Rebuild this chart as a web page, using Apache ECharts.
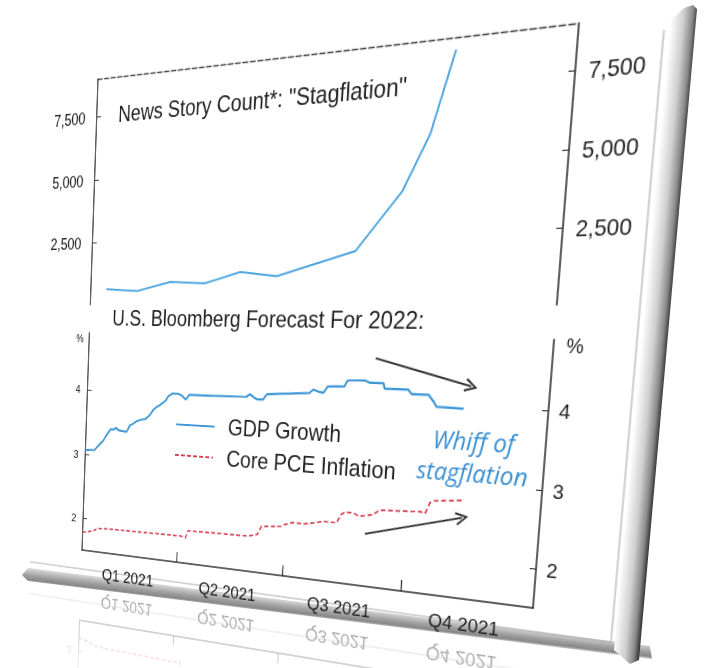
<!DOCTYPE html>
<html>
<head>
<meta charset="utf-8">
<script src="https://cdn.jsdelivr.net/npm/echarts@6/dist/echarts.min.js"></script>
<style>
  html, body { margin: 0; padding: 0; background: #fff; overflow: hidden; width: 705px; height: 668px; }
  #frame { position: absolute; left: 0; top: 0; }
  #board {
    position: absolute; left: 0; top: 0; transform-origin: 0 0;
    -webkit-box-reflect: below 0px linear-gradient(to bottom, transparent 80%, rgba(0,0,0,0.42) 100%);
  }
</style>
</head>
<body>
<svg id="frame" width="705" height="668" xmlns="http://www.w3.org/2000/svg">
  <defs>
    <linearGradient id="edgeRight" gradientUnits="userSpaceOnUse" x1="643" y1="335" x2="668" y2="337.3">
      <stop offset="0" stop-color="#fafafa"/>
      <stop offset="0.45" stop-color="#cfcfcf"/>
      <stop offset="0.8" stop-color="#8a8a8a"/>
      <stop offset="1" stop-color="#3a3a3a"/>
    </linearGradient>
    <linearGradient id="edgeBottom" gradientUnits="userSpaceOnUse" x1="300" y1="602" x2="298.4" y2="615">
      <stop offset="0" stop-color="#d6d6d6"/>
      <stop offset="0.5" stop-color="#a2a2a2"/>
      <stop offset="0.85" stop-color="#888888"/>
      <stop offset="1" stop-color="#bdbdbd"/>
    </linearGradient>
  </defs>
  <polygon points="22,575 28,568 650,646 652,659 28,581" fill="url(#edgeBottom)"/>
  <polygon points="671,20 684,8 693,5 697,9 639,660 630,664 614,650" fill="url(#edgeRight)"/>
</svg>
<div id="board"></div>
<script>
// ---- data ----
const storyDates  = ['2021-01-16', '2021-02-14', '2021-03-16', '2021-04-15', '2021-05-15',
                     '2021-06-14', '2021-08-13', '2021-09-14', '2021-10-01', '2021-10-15'];
const storyCounts = [624, 548, 897, 821, 1239, 1060, 1914, 3969, 5851, 8596];

const gdpDates = ['2021-01-01','2021-01-10','2021-01-13','2021-01-18','2021-01-21','2021-01-25','2021-01-27',
  '2021-01-30','2021-02-01','2021-02-04','2021-02-09','2021-02-12','2021-02-15','2021-02-18','2021-02-23',
  '2021-02-26','2021-03-02','2021-03-05','2021-03-08','2021-03-11','2021-03-16','2021-03-18','2021-03-22',
  '2021-03-27','2021-03-30','2021-04-03','2021-04-06','2021-04-15','2021-05-25','2021-05-28','2021-05-31',
  '2021-06-03','2021-06-08','2021-06-11','2021-07-15','2021-07-18','2021-07-23','2021-07-26','2021-07-29',
  '2021-08-11','2021-08-13','2021-08-26','2021-08-30','2021-09-09','2021-09-10','2021-09-27','2021-09-30',
  '2021-10-12','2021-10-16','2021-10-18','2021-11-06'];
const gdpValues = [3.07, 3.08, 3.14, 3.23, 3.32, 3.42, 3.41,
  3.44, 3.41, 3.40, 3.39, 3.49, 3.52, 3.56, 3.59,
  3.60, 3.66, 3.74, 3.79, 3.82, 3.89, 3.95, 4.00,
  4.00, 3.98, 3.92, 3.99, 3.99, 4.00, 4.04, 4.00,
  3.97, 3.97, 4.05, 4.09, 4.14, 4.11, 4.10, 4.19,
  4.20, 4.28, 4.29, 4.26, 4.26, 4.19, 4.19, 4.13,
  4.13, 4.04, 3.98, 3.97];

const pceDates = ['2021-01-01','2021-01-11','2021-01-16','2021-01-31','2021-03-04','2021-04-03','2021-04-08',
  '2021-04-10','2021-05-03','2021-06-01','2021-06-09','2021-06-12','2021-06-28','2021-07-01','2021-07-07',
  '2021-07-17','2021-07-25','2021-07-31','2021-08-11','2021-08-14','2021-08-17','2021-08-23','2021-08-28',
  '2021-09-07','2021-09-12','2021-10-02','2021-10-12','2021-10-15','2021-10-18','2021-10-21','2021-11-11'];
const pceValues = [1.78, 1.82, 1.87, 1.88, 1.89, 1.90, 1.88,
  1.99, 2.00, 2.01, 2.05, 2.17, 2.20, 2.23, 2.27,
  2.27, 2.30, 2.33, 2.33, 2.45, 2.49, 2.49, 2.45,
  2.49, 2.56, 2.58, 2.59, 2.57, 2.72, 2.75, 2.79];

const quarterStarts = ['2021-01-01', '2021-04-01', '2021-07-01', '2021-10-01', '2022-01-01'];
const quarterLabels = ['Q1 2021', 'Q2 2021', 'Q3 2021', 'Q4 2021'];
const storyTickValues = [2500, 5000, 7500];
const rateTickValues = [2, 3, 4];

// trend arrows: [date, value] start and end points
const arrowStarts = [['2021-09-02', 4.59], ['2021-09-02', 2.22]];
const arrowEnds   = [['2021-11-10', 4.26], ['2021-11-10', 2.56]];

// ---- helpers ----
const DAY0 = Date.parse('2021-01-01T00:00:00Z');
const dayOf = s => (Date.parse(s + 'T00:00:00Z') - DAY0) / 864e5;
const pairs = (dates, vals) => dates.map((d, i) => [dayOf(d), vals[i]]);

const quarterBounds = quarterStarts.slice(1, -1).map(dayOf);
const quarterMids = quarterLabels.map((_, i) => (dayOf(quarterStarts[i]) + dayOf(quarterStarts[i + 1])) / 2);
const quarterName = v => {
  let best = 0;
  quarterMids.forEach((m, i) => { if (Math.abs(m - v) < Math.abs(quarterMids[best] - v)) best = i; });
  return quarterLabels[best];
};

// ---- flat layout of the board ----
const PL = 90, PT = 30, PW = 540, PH = 522;
const FW = PL + 620, FH = 593;
const TOP_FRAC = 0.468;      // bottom of upper panel (fraction of PH)
const BOT_FRAC = 0.5274;     // top of lower panel
const FONT = '"Liberation Sans", Arial, sans-serif';
const INK = '#222';

const board = document.getElementById('board');
board.style.width = FW + 'px';
board.style.height = FH + 'px';

// projective mapping of the flat board onto the tilted slab
function solveHomography(src, dst) {
  const A = [], b = [];
  for (let i = 0; i < 4; i++) {
    const [x, y] = src[i], [X, Y] = dst[i];
    A.push([x, y, 1, 0, 0, 0, -x * X, -y * X]); b.push(X);
    A.push([0, 0, 0, x, y, 1, -x * Y, -y * Y]); b.push(Y);
  }
  const n = 8;
  for (let c = 0; c < n; c++) {
    let p = c;
    for (let r = c + 1; r < n; r++) if (Math.abs(A[r][c]) > Math.abs(A[p][c])) p = r;
    [A[c], A[p]] = [A[p], A[c]]; [b[c], b[p]] = [b[p], b[c]];
    for (let r = 0; r < n; r++) {
      if (r === c) continue;
      const f = A[r][c] / A[c][c];
      for (let k = c; k < n; k++) A[r][k] -= f * A[c][k];
      b[r] -= f * b[c];
    }
  }
  return b.map((v, i) => v / A[i][i]);
}
const h = solveHomography(
  [[PL, PT], [PL + PW, PT], [PL + PW, PT + PH], [PL, PT + PH]],
  [[98, 79], [579, 23], [533, 608], [82, 550]]
);
board.style.transform = `matrix3d(${h[0]},${h[3]},0,${h[6]},${h[1]},${h[4]},0,${h[7]},0,0,1,0,${h[2]},${h[5]},0,1)`;

// ---- chart ----
const chart = echarts.init(board, null, { renderer: 'svg', width: FW, height: FH });

const axisLineStyle = { color: '#2b2b2b', width: 1.5 };
const chevron = 'path://M5,0 L10,10 L8.6,10.7 L5,3 L1.4,10.7 L0,10 Z';

const option = {
  animation: false,
  backgroundColor: 'transparent',
  textStyle: { fontFamily: FONT, color: INK },
  title: [
    { text: 'News Story Count*: "Stagflation"', left: PL + 25, top: PT + 22,
      textStyle: { fontFamily: FONT, fontSize: 24, fontWeight: 'normal', color: INK, lineHeight: 26 } },
    { text: 'U.S. Bloomberg Forecast For 2022:', left: PL + 27, top: PT + 241,
      textStyle: { fontFamily: FONT, fontSize: 24, fontWeight: 'normal', color: INK, lineHeight: 26 } }
  ],
  legend: {
    data: ['GDP Growth', 'Core PCE Inflation'],
    orient: 'vertical',
    left: PL + 119, top: PT + 354,
    itemWidth: 50, itemHeight: 14, itemGap: 7,
    selectedMode: false,
    itemStyle: { opacity: 0, borderWidth: 0 },
    textStyle: { fontFamily: FONT, fontSize: 24, color: INK, lineHeight: 26, padding: [0, 0, 0, 12] }
  },
  grid: [
    { left: PL, top: PT, width: PW, height: TOP_FRAC * PH },
    { left: PL, top: PT + BOT_FRAC * PH, width: PW, height: (1 - BOT_FRAC) * PH }
  ],
  xAxis: [
    { gridIndex: 0, type: 'value', min: 0, max: 365, position: 'top',
      axisLine: { onZero: false, lineStyle: { color: '#444', width: 1.4, type: [6, 3] } },
      axisTick: { show: false }, axisLabel: { show: false }, splitLine: { show: false } },
    { gridIndex: 1, type: 'value', min: 0, max: 365, position: 'bottom',
      axisLine: { onZero: false, lineStyle: axisLineStyle },
      axisTick: { inside: true, length: 11, customValues: quarterBounds, lineStyle: { color: '#2b2b2b', width: 1.3 } },
      axisLabel: { customValues: quarterMids, formatter: quarterName, margin: 15,
                   fontFamily: FONT, fontSize: 19, color: INK },
      splitLine: { show: false } }
  ],
  yAxis: [
    { gridIndex: 0, type: 'value', position: 'left', min: 0, max: 9000,
      axisLine: { show: true, onZero: false, lineStyle: axisLineStyle },
      axisTick: { show: true, inside: true, length: 6, customValues: storyTickValues },
      axisLabel: { customValues: storyTickValues, margin: 16, fontSize: 18, color: INK,
                   formatter: v => v.toLocaleString('en-US') },
      splitLine: { show: false } },
    { gridIndex: 0, type: 'value', position: 'right', min: 0, max: 9000,
      axisLine: { show: true, onZero: false, lineStyle: axisLineStyle },
      axisTick: { show: true, inside: true, length: 6, customValues: storyTickValues },
      axisLabel: { customValues: storyTickValues, margin: 12, fontSize: 20, color: INK,
                   formatter: v => v.toLocaleString('en-US') },
      splitLine: { show: false } },
    { gridIndex: 1, type: 'value', position: 'left', min: 1.5, max: 4.87,
      name: '%', nameLocation: 'end', nameGap: -6,
      nameTextStyle: { fontSize: 12, color: INK, align: 'right', verticalAlign: 'middle', padding: [0, 8, 0, 0] },
      axisLine: { show: true, onZero: false, lineStyle: axisLineStyle },
      axisTick: { show: true, inside: true, length: 6, customValues: rateTickValues },
      axisLabel: { customValues: rateTickValues, margin: 10, fontSize: 13, color: INK },
      splitLine: { show: false } },
    { gridIndex: 1, type: 'value', position: 'right', min: 1.5, max: 4.87,
      name: '%', nameLocation: 'end', nameGap: -5,
      nameTextStyle: { fontSize: 18, color: INK, align: 'left', verticalAlign: 'middle', padding: [0, 0, 0, 12] },
      axisLine: { show: true, onZero: false, lineStyle: axisLineStyle },
      axisTick: { show: true, inside: true, length: 6, customValues: rateTickValues },
      axisLabel: { customValues: rateTickValues, margin: 10, fontSize: 19, color: INK },
      splitLine: { show: false } }
  ],
  series: [
    { name: 'News stories', type: 'line', xAxisIndex: 0, yAxisIndex: 0,
      data: pairs(storyDates, storyCounts), symbol: 'none',
      lineStyle: { color: '#4aa3df', width: 2 }, itemStyle: { color: '#4aa3df' } },
    { name: 'GDP Growth', type: 'line', xAxisIndex: 1, yAxisIndex: 2,
      data: pairs(gdpDates, gdpValues), symbol: 'none',
      lineStyle: { color: '#3d96d6', width: 2.2 }, itemStyle: { color: '#3d96d6' },
      markLine: {
        silent: true, animation: false,
        symbol: ['none', chevron], symbolSize: 13,
        lineStyle: { color: '#2a2a2a', width: 1.8, type: 'solid' },
        label: { show: false }, emphasis: { disabled: true },
        data: arrowStarts.map((s, i) => [
          { coord: [dayOf(s[0]), s[1]] },
          { coord: [dayOf(arrowEnds[i][0]), arrowEnds[i][1]] }
        ])
      } },
    { name: 'Core PCE Inflation', type: 'line', xAxisIndex: 1, yAxisIndex: 2,
      data: pairs(pceDates, pceValues), symbol: 'none',
      lineStyle: { color: '#d43a4c', width: 1.7, type: [5, 3] }, itemStyle: { color: '#d43a4c' } }
  ],
  graphic: [
    { type: 'polyline', z: -10, silent: true,
      shape: { points: [[PL - 78, PT + 544], [PL + 615, PT + 544], [PL + 615, PT + 14]] },
      style: { stroke: '#a8a8a8', fill: 'none', lineWidth: 1 } },
    { type: 'text', silent: true, x: PL + 469, y: PT + 386,
      style: { text: 'Whiff of\nstagflation', fill: '#3a8fd2',
               fontFamily: '"Open Sans", sans-serif', fontStyle: 'italic', fontSize: 24,
               lineHeight: 30, align: 'center', verticalAlign: 'middle' } }
  ]
};
chart.setOption(option);
</script>
</body>
</html>
